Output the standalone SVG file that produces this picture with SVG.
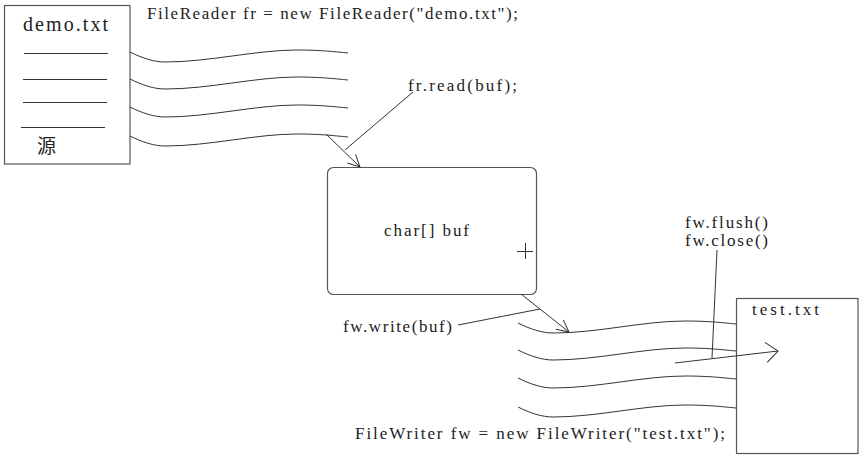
<svg xmlns="http://www.w3.org/2000/svg" width="863" height="458" viewBox="0 0 863 458">
<style>
  .box { fill: #fff; stroke: #555; stroke-width: 1.2; }
  .ln { fill: none; stroke: #333; stroke-width: 1; }
  .t { font-family: "Liberation Serif", "Noto Sans CJK SC", serif; font-size: 17px; fill: #222; }
  .big { font-size: 20px; }
  .cjk { font-family: "Noto Sans CJK SC", "Liberation Serif", serif; font-size: 19px; fill: #222; }
</style>
<defs>
  <marker id="open" viewBox="0 0 14 14" refX="13" refY="7" markerWidth="14" markerHeight="14" markerUnits="userSpaceOnUse" orient="auto">
    <path d="M1,1 L13,7 L1,13" fill="none" stroke="#333" stroke-width="1"/>
  </marker>
  <marker id="openwide" viewBox="0 0 14 22" refX="13" refY="11" markerWidth="14" markerHeight="22" markerUnits="userSpaceOnUse" orient="auto">
    <path d="M1,1 L13,11 L1,21" fill="none" stroke="#333" stroke-width="1"/>
  </marker>
</defs>
<rect width="863" height="458" fill="#fff"/>

<g id="source">
  <rect class="box" x="4.5" y="5.5" width="125.5" height="158.5"/>
  <text class="t big" x="23" y="31" textLength="85" lengthAdjust="spacing">demo.txt</text>
  <line class="ln" x1="24" y1="53.5" x2="108" y2="53.5"/>
  <line class="ln" x1="23" y1="79.5" x2="107" y2="79.5"/>
  <line class="ln" x1="23" y1="102.5" x2="107" y2="102.5"/>
  <line class="ln" x1="21" y1="127.5" x2="105" y2="127.5"/>
  <text class="cjk" x="37" y="153">源</text>
</g>

<g id="buffer">
  <rect class="box" x="327.5" y="167.5" width="209" height="127" rx="6" ry="6"/>
  <text class="t" x="384" y="236" textLength="85" lengthAdjust="spacing">char[] buf</text>
  <line class="ln" x1="517" y1="251.5" x2="533" y2="251.5"/>
  <line class="ln" x1="525.5" y1="243" x2="525.5" y2="259"/>
</g>

<g id="target">
  <rect class="box" x="736.5" y="298.5" width="121.5" height="155"/>
  <text class="t" x="752" y="315" textLength="67" lengthAdjust="spacing">test.txt</text>
</g>

<g id="labels">
  <text class="t" x="147" y="19" textLength="371" lengthAdjust="spacing">FileReader fr = new FileReader("demo.txt");</text>
  <text class="t" x="408" y="91" textLength="109" lengthAdjust="spacing">fr.read(buf);</text>
  <text class="t" x="343" y="332" textLength="109" lengthAdjust="spacing">fw.write(buf)</text>
  <text class="t" x="685" y="228" textLength="83" lengthAdjust="spacing">fw.flush()</text>
  <text class="t" x="685" y="246" textLength="83" lengthAdjust="spacing">fw.close()</text>
  <text class="t" x="355" y="439" textLength="370" lengthAdjust="spacing">FileWriter fw = new FileWriter("test.txt");</text>
</g>

<g id="connectors">
  <path class="ln" d="M130,52 c12,6 24,10 35,10 c45,0 90,-12 132,-12 c25,0 40,2 51,3"/>
  <path class="ln" d="M130,79 c12,6 24,10 35,10 c45,0 90,-12 132,-12 c25,0 40,2 51,3"/>
  <path class="ln" d="M130,107 c12,6 24,10 35,10 c45,0 90,-12 132,-12 c25,0 40,2 51,3"/>
  <path class="ln" d="M130,136 c12,6 24,10 35,10 c45,0 90,-12 132,-12 c25,0 40,2 51,3"/>

  <path class="ln" d="M518,323 c12,6 24,10 35,10 c45,0 90,-12 132,-12 c25,0 40,2 51,3"/>
  <path class="ln" d="M518,350 c12,6 24,10 35,10 c45,0 90,-12 132,-12 c25,0 40,2 51,3"/>
  <path class="ln" d="M518,378 c12,6 24,10 35,10 c45,0 90,-12 132,-12 c25,0 40,2 51,3"/>
  <path class="ln" d="M518,407 c12,6 24,10 35,10 c45,0 90,-12 132,-12 c25,0 40,2 51,3"/>

  <line class="ln" x1="326" y1="134" x2="360" y2="167" marker-end="url(#open)"/>
  <line class="ln" x1="413" y1="92" x2="345" y2="150"/>

  <line class="ln" x1="521" y1="294" x2="569" y2="332" marker-end="url(#open)"/>
  <line class="ln" x1="458" y1="325" x2="540" y2="309"/>

  <line class="ln" x1="717" y1="250" x2="712" y2="358"/>
  <line class="ln" x1="675" y1="363" x2="778" y2="351" marker-end="url(#openwide)"/>
</g>
</svg>
